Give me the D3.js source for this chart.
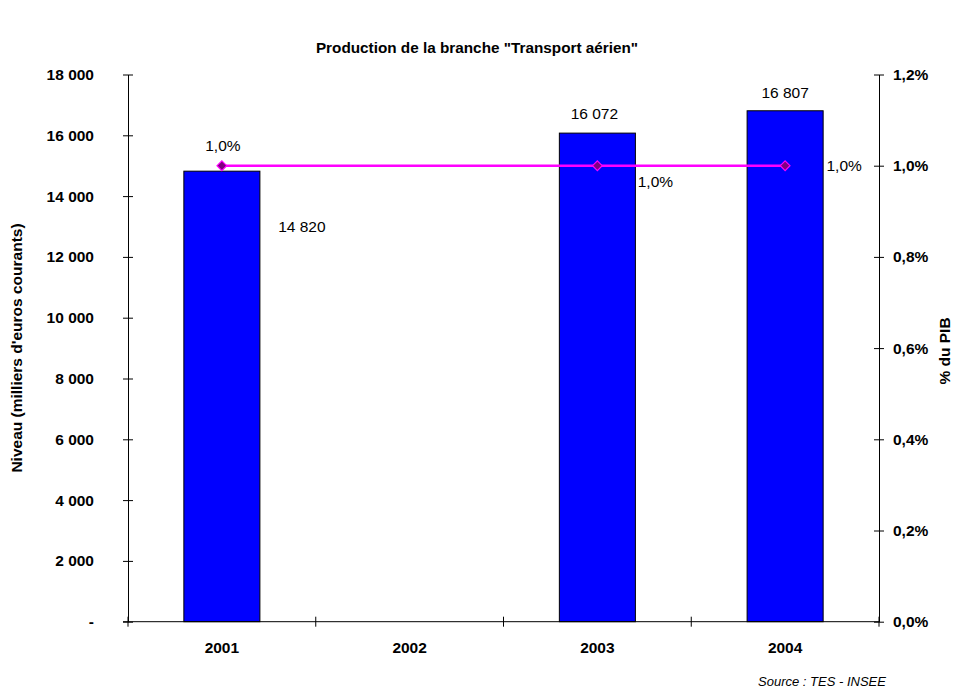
<!DOCTYPE html>
<html>
<head>
<meta charset="utf-8">
<script src="https://cdn.jsdelivr.net/npm/d3@7"></script>
<style>
  html, body { margin: 0; padding: 0; background: #fff; }
  svg { display: block; font-family: "Liberation Sans", Arial, sans-serif; }
</style>
</head>
<body>
<svg id="chart" width="954" height="688"></svg>
<script>
// Production of the "Transport aérien" branch, in thousand euros, and share of GDP
const years = ["2001", "2002", "2003", "2004"];
const production = [14820, null, 16072, 16807];
const shareOfGdp = [0.010, null, 0.010, 0.010];
const leftTicks = [0, 2000, 4000, 6000, 8000, 10000, 12000, 14000, 16000, 18000];
const rightTicks = [0, 0.002, 0.004, 0.006, 0.008, 0.010, 0.012];

const svg = d3.select("#chart");
const margin = { left: 128, right: 879, top: 74.5, bottom: 621.7 };
const FONT = 15.5;

const x = d3.scaleBand().domain(years).range([margin.left, margin.right]);
const yLeft = d3.scaleLinear().domain([0, 18000]).range([margin.bottom, margin.top]);
const yRight = d3.scaleLinear().domain([0, 0.012]).range([margin.bottom, margin.top]);

const fmtThousands = v => v === 0 ? "-" : d3.format(",")(v).replace(/,/g, " ");
const fmtPct = v => d3.format(".1f")(v * 100).replace(".", ",") + "%";

// Title
svg.append("text")
  .attr("x", 477).attr("y", 53)
  .attr("text-anchor", "middle")
  .attr("font-size", 15.3).attr("font-weight", "bold").attr("fill", "#000")
  .text("Production de la branche \"Transport aérien\"");

// Bars
const barW = x.bandwidth() * 0.405;
const bars = years.map((y, i) => ({ year: y, value: production[i] })).filter(d => d.value != null);
svg.append("g").selectAll("rect").data(bars).join("rect")
  .attr("x", d => x(d.year) + x.bandwidth() / 2 - barW / 2)
  .attr("y", d => yLeft(d.value))
  .attr("width", barW)
  .attr("height", d => yLeft(0) - yLeft(d.value))
  .attr("fill", "#0000FF")
  .attr("stroke", "#000").attr("stroke-width", 1);

// Axes
const axisStyle = g => {
  g.select(".domain").attr("stroke", "#000").attr("stroke-width", 1);
  g.selectAll(".tick line").attr("stroke", "#000").attr("x1", -5).attr("x2", 5);
  g.selectAll(".tick text").attr("fill", "#000").attr("font-size", FONT).attr("font-weight", "bold")
    .attr("font-family", "'Liberation Sans', Arial, sans-serif");
};

svg.append("g")
  .attr("transform", `translate(${margin.left},0)`)
  .call(d3.axisLeft(yLeft).tickValues(leftTicks).tickFormat(fmtThousands).tickSizeInner(5).tickSizeOuter(0).tickPadding(29))
  .call(axisStyle);

svg.append("g")
  .attr("transform", `translate(${margin.right},0)`)
  .call(d3.axisRight(yRight).tickValues(rightTicks).tickFormat(fmtPct).tickSizeInner(5).tickSizeOuter(0).tickPadding(9))
  .call(axisStyle);

// Category axis with ticks at band boundaries
const bottomAxis = svg.append("g").attr("transform", `translate(0,${margin.bottom})`);
bottomAxis.append("line")
  .attr("x1", margin.left - 5).attr("x2", margin.right)
  .attr("stroke", "#000");
bottomAxis.selectAll("line.tick").data(years.concat(["end"])).join("line")
  .attr("class", "tick")
  .attr("x1", (d, i) => margin.left + i * x.bandwidth())
  .attr("x2", (d, i) => margin.left + i * x.bandwidth())
  .attr("y1", -5).attr("y2", 5)
  .attr("stroke", "#000");
bottomAxis.selectAll("text").data(years).join("text")
  .attr("x", d => x(d) + x.bandwidth() / 2)
  .attr("y", 31)
  .attr("text-anchor", "middle")
  .attr("font-size", FONT).attr("font-weight", "bold").attr("fill", "#000")
  .text(d => d);

// Axis titles
svg.append("text")
  .attr("transform", "translate(22,348) rotate(-90)")
  .attr("text-anchor", "middle")
  .attr("font-size", FONT).attr("font-weight", "bold").attr("fill", "#000")
  .text("Niveau (milliers d'euros courants)");
svg.append("text")
  .attr("transform", "translate(950,351) rotate(-90)")
  .attr("text-anchor", "middle")
  .attr("font-size", FONT).attr("font-weight", "bold").attr("fill", "#000")
  .text("% du PIB");

// Share-of-GDP line
const pts = years.map((y, i) => ({ year: y, value: shareOfGdp[i] })).filter(d => d.value != null);
const line = d3.line()
  .x(d => x(d.year) + x.bandwidth() / 2)
  .y(d => yRight(d.value));
svg.append("path")
  .datum(pts)
  .attr("d", line)
  .attr("fill", "none")
  .attr("stroke", "#FF00FF")
  .attr("stroke-width", 2.5);
svg.append("g").selectAll("path").data(pts).join("path")
  .attr("transform", d => `translate(${x(d.year) + x.bandwidth() / 2},${yRight(d.value)})`)
  .attr("d", d3.symbol(d3.symbolDiamond2, 60))
  .attr("fill", "#800080")
  .attr("stroke", "#FF00FF")
  .attr("stroke-width", 1.2);

// Value labels
const barLabelOffset = { "2001": [80, 61], "2003": [-3, -14], "2004": [0, -13] };
svg.append("g").selectAll("text").data(bars).join("text")
  .attr("x", d => x(d.year) + x.bandwidth() / 2 + barLabelOffset[d.year][0])
  .attr("y", d => yLeft(d.value) + barLabelOffset[d.year][1])
  .attr("text-anchor", "middle")
  .attr("font-size", FONT).attr("fill", "#000")
  .text(d => fmtThousands(d.value));

const pctLabelOffset = { "2001": [1, -15], "2003": [58, 21], "2004": [59, 5] };
svg.append("g").selectAll("text").data(pts).join("text")
  .attr("x", d => x(d.year) + x.bandwidth() / 2 + pctLabelOffset[d.year][0])
  .attr("y", d => yRight(d.value) + pctLabelOffset[d.year][1])
  .attr("text-anchor", "middle")
  .attr("font-size", FONT).attr("fill", "#000")
  .text(d => fmtPct(d.value));

// Source note
svg.append("text")
  .attr("x", 822).attr("y", 686)
  .attr("text-anchor", "middle")
  .attr("font-size", 13).attr("font-style", "italic").attr("fill", "#000")
  .text("Source : TES - INSEE");
</script>
</body>
</html>
